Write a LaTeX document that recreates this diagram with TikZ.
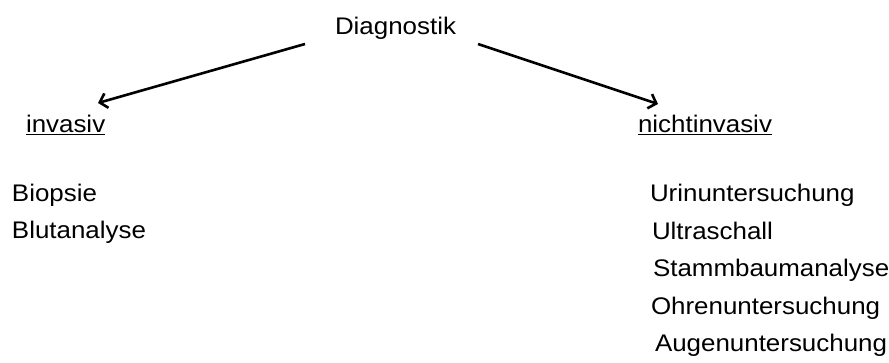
\documentclass[tikz,border=0pt]{standalone}
\usepackage{fontspec}
\setmainfont{Liberation Sans}
\usetikzlibrary{arrows.meta}
\newcommand\hs[1]{\scalebox{1.08}[1]{#1}}
\tikzset{
  lbl/.style={anchor=base west, inner sep=0pt, outer sep=0pt, font=\fontsize{24}{28}\selectfont, text=black},
  conn/.style={line width=2.6pt, draw=black, -{Straight Barb[length=7pt,width=15pt,line width=2.6pt]}}
}
\begin{document}
\begin{tikzpicture}[x=1pt,y=-1pt]
\useasboundingbox (0,0) rectangle (889,363);
\node[lbl] (diag) at (335,35) {\hs{Diagnostik}};
\node[lbl] (inv) at (26,133) {\hs{\underline{invasiv}}};
\node[lbl] (ninv) at (638,133) {\hs{\underline{nichtinvasiv}}};
\node[lbl] (bio) at (12,202) {\hs{Biopsie}};
\node[lbl] (blut) at (12,239) {\hs{Blutanalyse}};
\node[lbl] (urin) at (650,202) {\hs{Urinuntersuchung}};
\node[lbl] (ultra) at (652,240) {\hs{Ultraschall}};
\node[lbl] (stamm) at (653,277) {\hs{Stammbaumanalyse}};
\node[lbl] (ohren) at (651,315) {\hs{Ohrenuntersuchung}};
\node[lbl] (augen) at (655,352) {\hs{Augenuntersuchung}};
\coordinate (ls) at (305,44);
\coordinate (le) at (98,103);
\coordinate (rs) at (478,44);
\coordinate (re) at (658,104);
\draw[conn] (ls) -- (le);
\draw[conn] (rs) -- (re);
\end{tikzpicture}
\end{document}
